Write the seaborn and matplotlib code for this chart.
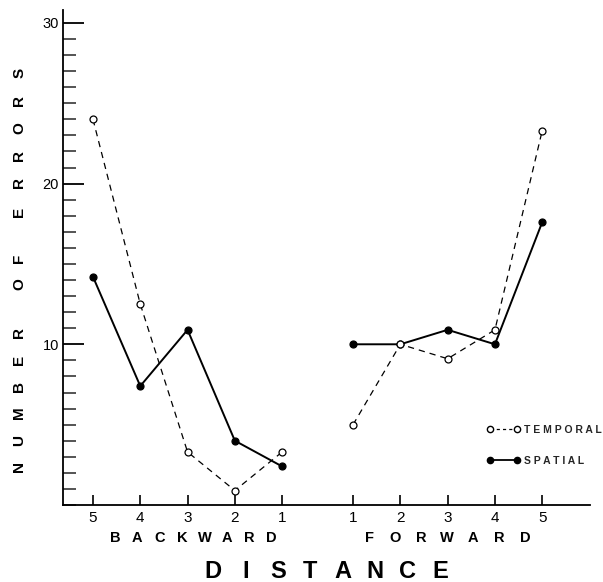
import numpy as np
import pandas as pd
import matplotlib
matplotlib.use("Agg")
import matplotlib.pyplot as plt
import seaborn as sns
from matplotlib.lines import Line2D
from matplotlib.ticker import MultipleLocator, FixedLocator

# ---- data ----
distance_labels = ["5", "4", "3", "2", "1", "1", "2", "3", "4", "5"]
direction = ["BACKWARD"] * 5 + ["FORWARD"] * 5
temporal = [24.0, 12.5, 3.3, 0.9, 3.3, 5.0, 10.0, 9.1, 10.9, 23.3]
spatial = [14.2, 7.4, 10.9, 4.0, 2.4, 10.0, 10.0, 10.9, 10.0, 17.6]
ytick_values = [10, 20, 30]
ytick_labels = ["10", "20", "30"]

# layout positions: two groups of five with a gap between
pos = np.r_[np.arange(5), np.arange(5) + 5.5]

rows = []
for name, vals in (("TEMPORAL", temporal), ("SPATIAL", spatial)):
    for p, d, v in zip(pos, direction, vals):
        rows.append({"pos": p, "direction": d, "series": name, "errors": v})
df = pd.DataFrame(rows)

sns.set_style("ticks")
plt.rcParams["font.family"] = ["Liberation Sans", "DejaVu Sans"]

W, H = 603, 582
fig = plt.figure(figsize=(W / 100, H / 100), dpi=100)
ax = fig.add_axes([63 / W, 1 - 505 / H, (590 - 63) / W, (505 - 10) / H])

styles = {
    "TEMPORAL": dict(linestyle=(0, (5, 4)), linewidth=0.9, markerfacecolor="white",
                     markeredgecolor="black", markeredgewidth=0.9, markersize=5, zorder=3),
    "SPATIAL": dict(linestyle="-", linewidth=1.4, markerfacecolor="black",
                    markeredgecolor="black", markeredgewidth=0.9, markersize=5, zorder=2),
}
for (name, d), sub in df.groupby(["series", "direction"]):
    sns.lineplot(data=sub, x="pos", y="errors", color="black", marker="o",
                 estimator=None, legend=False, ax=ax, **styles[name])

ax.set_xlim(-0.634, 10.51)
ax.set_ylim(0, 30.8)
sns.despine(ax=ax)
for s in ("left", "bottom"):
    ax.spines[s].set_linewidth(1.3)
    ax.spines[s].set_color("black")

ax.set_xticks(pos)
ax.set_xticklabels(distance_labels)
ax.yaxis.set_major_locator(FixedLocator(ytick_values))
ax.set_yticklabels(ytick_labels)
ax.yaxis.set_minor_locator(MultipleLocator(1))
ax.tick_params(axis="x", direction="in", length=7, width=1.2, pad=4,
               labelsize=11, colors="black")
ax.tick_params(axis="y", which="major", direction="in", length=15, width=1.3,
               pad=3, labelsize=10.5, colors="black")
ax.tick_params(axis="y", which="minor", direction="in", length=9, width=1.1)
ax.set_xlabel("")
ax.set_ylabel("")
for lab in ax.get_xticklabels() + ax.get_yticklabels():
    lab.set_fontweight("light")


def spaced(text, xs, ys, size, rotation=0):
    for ch, x, y in zip(text, xs, ys):
        fig.text(x / W, 1 - y / H, ch, ha="center", va="center", fontsize=size,
                 fontweight="bold", rotation=rotation, color="black")


# y-axis title, letter by letter
ylab = "NUMBEROFERRORS"
ylab_y = [467, 440, 413, 387, 360, 333, 284, 258, 212, 183, 156, 128, 100, 73]
spaced(ylab, [19.5] * len(ylab), ylab_y, 11, rotation=90)

# group labels
bw = "BACKWARD"
spaced(bw, [115 + 22.4 * i for i in range(len(bw))], [538] * len(bw), 10.5)
fw = "FORWARD"
spaced(fw, [369 + 26.0 * i for i in range(len(fw))], [538] * len(fw), 10.5)
dist = "DISTANCE"
spaced(dist, [213 + 32.4 * i for i in range(len(dist))], [572] * len(dist), 17)

handles = [
    Line2D([], [], color="black", linestyle=(0, (2.5, 2.5)), linewidth=0.9, marker="o",
           markerfacecolor="white", markeredgecolor="black", markersize=4.5),
    Line2D([], [], color="black", linestyle="-", linewidth=1.3, marker="o",
           markerfacecolor="black", markeredgecolor="black", markersize=4.5),
]
ax.legend(handles, ["T E M P O R A L", "S P A T I A L"], numpoints=2, frameon=False,
          loc="upper left", bbox_to_anchor=(487 / W, 1 - 425 / H),
          bbox_transform=fig.transFigure, handlelength=3.2, handletextpad=0.4,
          labelspacing=2.0, borderpad=0, borderaxespad=0,
          prop=dict(family="Liberation Sans", weight="bold", size=7.5))

fig.savefig("out.png", dpi=100, facecolor="white")
